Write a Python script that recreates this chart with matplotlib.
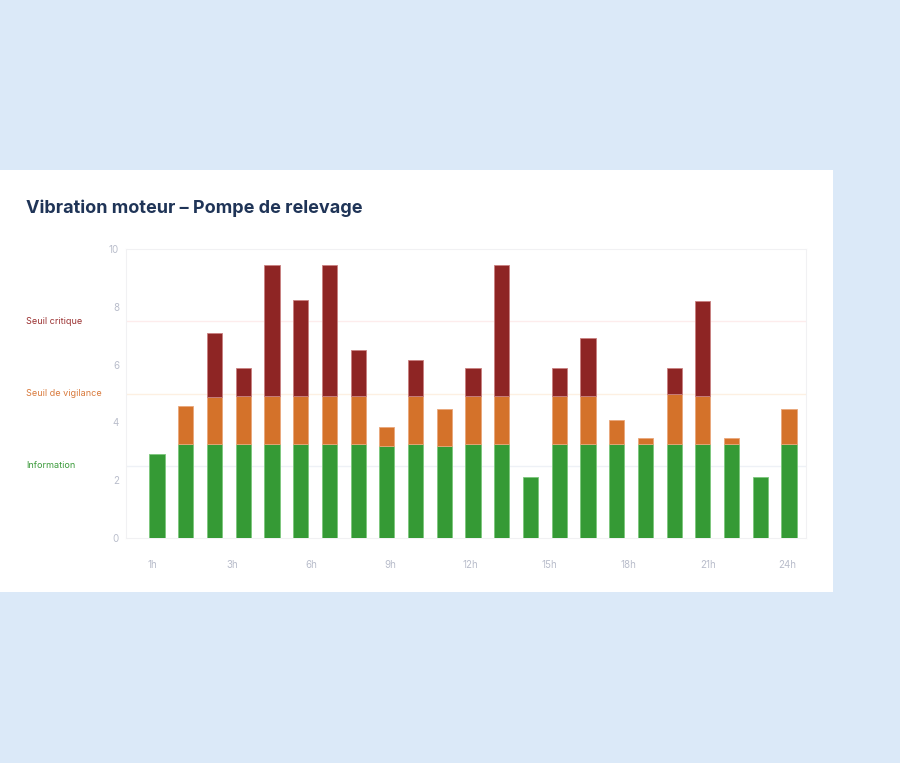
import numpy as np
import matplotlib
matplotlib.use("Agg")
import matplotlib.pyplot as plt
from matplotlib.patches import Rectangle
from matplotlib.transforms import blended_transform_factory

plt.rcParams["font.family"] = ["Inter", "DejaVu Sans"]

# data
green = [2.9, 3.25, 3.25, 3.25, 3.25, 3.25, 3.25, 3.25, 3.18, 3.25, 3.18, 3.25,
         3.25, 2.1, 3.25, 3.25, 3.25, 3.25, 3.25, 3.25, 3.25, 2.1, 3.25]
orange = [0, 1.33, 1.63, 1.66, 1.66, 1.66, 1.66, 1.66, 0.66, 1.66, 1.27, 1.66,
          1.66, 0, 1.66, 1.66, 0.82, 0.2, 1.72, 1.66, 0.2, 0, 1.2]
red = [0, 0, 2.22, 0.96, 4.54, 3.32, 4.54, 1.61, 0, 1.26, 0, 0.96,
       4.54, 0, 0.96, 2.02, 0, 0, 0.9, 3.31, 0, 0, 0]
hour_labels = ["1h", "3h", "6h", "9h", "12h", "15h", "18h", "21h", "24h"]
thresholds = [2.5, 5, 7.5]
threshold_names = ["Information", "Seuil de vigilance", "Seuil critique"]

C_GREEN = "#359a35"
C_ORANGE = "#d4722a"
C_RED = "#8e2524"
C_BG = "#dbe9f8"

W, H = 900, 763
fig = plt.figure(figsize=(W / 100, H / 100), dpi=100, facecolor=C_BG)

# white card
fig.patches.append(Rectangle((0, 1 - 592 / H), 833 / W, (592 - 170) / H,
                             transform=fig.transFigure, facecolor="white",
                             edgecolor="none", zorder=-5))

fig.text(26 / W, 1 - 208 / H, "Vibration moteur \u2013 Pompe de relevage",
         fontsize=13, fontweight="bold", color="#1f3457", va="center", ha="left")

ax = fig.add_axes([126 / W, 1 - 537.7 / H, (806 - 126) / W, (537.7 - 249.3) / H])
ax.set_zorder(2)
ax.set_facecolor("white")

x = np.arange(len(green))
g = np.array(green)
o = np.array(orange)
r = np.array(red)
kw = dict(width=0.53, linewidth=0.6, zorder=3)


def stack(vals, bottom, color, edge):
    m = vals > 0  # skip empty segments so no stray edge is drawn
    ax.bar(x[m], vals[m], bottom=bottom[m], color=color, edgecolor=edge, **kw)


stack(g, np.zeros_like(g), C_GREEN, "#7cc77c")
stack(o, g, C_ORANGE, "#e9a77a")
stack(r, g + o, C_RED, "#c98080")

ax.set_xlim(-1.08, 22.59)
ax.set_ylim(0, 10)

line_colors = ["#eef1f6", "#fdf0e2", "#fdecec"]
for t, c in zip(thresholds, line_colors):
    ax.axhline(t, color=c, linewidth=1, zorder=1)

tr = blended_transform_factory(fig.transFigure, ax.transData)
for t, name, c in zip(thresholds, threshold_names, ["#3a9a3a", "#d97a3c", "#9b3131"]):
    ax.text(26 / W, t, name, transform=tr, fontsize=6.5, color=c,
            ha="left", va="center", clip_on=False)

ax.set_yticks([0, 2, 4, 6, 8, 10])
ax.set_xticks(np.linspace(-0.15, 21.94, len(hour_labels)))
ax.set_xticklabels(hour_labels)
ax.tick_params(axis="both", length=0, labelsize=7, labelcolor="#b9bdcb")
ax.tick_params(axis="x", pad=16)
ax.tick_params(axis="y", pad=5)

for s in ax.spines.values():
    s.set_color("#f1f1f3")
    s.set_linewidth(0.8)

fig.savefig("out.png", dpi=100, facecolor=C_BG)
